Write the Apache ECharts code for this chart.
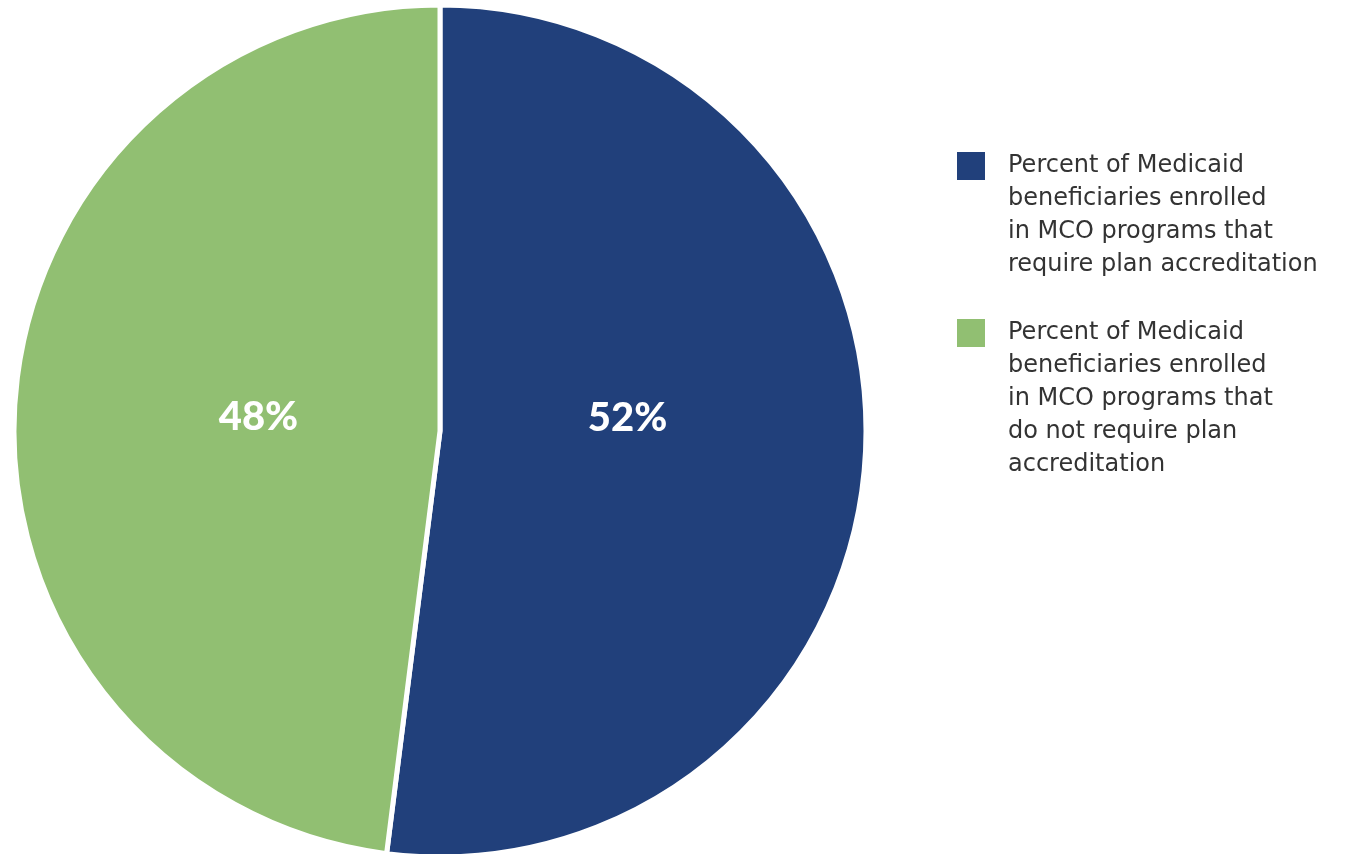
<!DOCTYPE html>
<html>
<head>
<meta charset="utf-8">
<script src="https://cdn.jsdelivr.net/npm/echarts@6/dist/echarts.min.js"></script>
<style>html,body{margin:0;padding:0;background:#fff;}#c{width:1345px;height:854px;}</style>
</head>
<body>
<div id="c"></div>
<script>
const categories = [
  "Percent of Medicaid\nbeneficiaries enrolled\nin MCO programs that\nrequire plan accreditation",
  "Percent of Medicaid\nbeneficiaries enrolled\nin MCO programs that\ndo not require plan\naccreditation"
];
const values = [52, 48];
const colors = ["#21407B", "#91BF72"];
const labelOffsets = [[-28, -26], [34, 0]];
const legendTops = [151, 318];

const LH = 33;
const FONT = 'DejaVu Sans';
const FS = 24;
const chart = echarts.init(document.getElementById('c'));
const legends = categories.map((name, i) => {
  const n = name.split('\n').length;
  const total = 2 * n - 1;
  const boxTop = 15 - (total * LH) / 2;
  return {
    orient: 'vertical',
    left: 950,
    top: legendTops[i] - 5 + boxTop,
    itemWidth: 30,
    itemHeight: 30,
    icon: 'rect',
    selectedMode: false,
    data: [name],
    formatter: (nm) => '{t| }\n'.repeat(n - 1) + '{t|' + nm.split('\n').join('}\n{t|') + '}',
    textStyle: {
      fontFamily: FONT,
      fontSize: FS,
      lineHeight: LH,
      color: '#333333',
      rich: {
        t: {fontFamily: FONT, fontSize: FS, lineHeight: LH, color: '#333333', padding: [0, 0, 0, 17]}
      }
    }
  };
});
chart.setOption({
  animation: false,
  legend: legends,
  series: [{
    type: 'pie',
    center: [440, 431],
    radius: 426,
    startAngle: 90,
    clockwise: true,
    silent: true,
    itemStyle: {borderColor: '#ffffff', borderWidth: 5},
    label: {
      show: true,
      position: 'inside',
      formatter: '{c}%',
      color: '#ffffff',
      fontFamily: 'Lato',
      fontWeight: 900,
      fontSize: 40
    },
    labelLine: {show: false},
    data: categories.map((name, i) => ({
      name: name,
      value: values[i],
      itemStyle: {color: colors[i]},
      label: {offset: labelOffsets[i]}
    }))
  }]
});
</script>
</body>
</html>
